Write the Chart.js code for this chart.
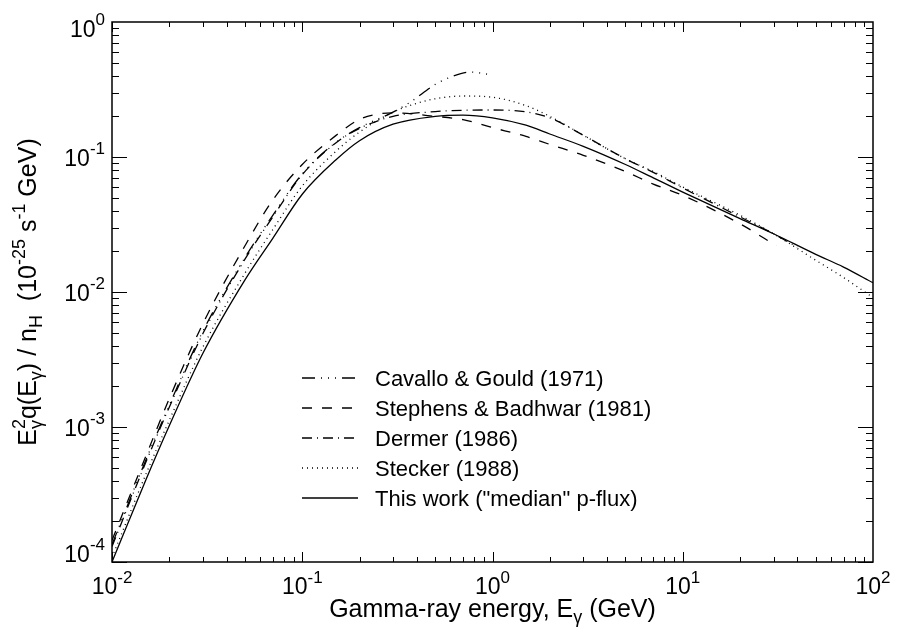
<!DOCTYPE html>
<html>
<head>
<meta charset="utf-8">
<script src="https://cdn.jsdelivr.net/npm/chart.js"></script>
<style>
  html, body { margin: 0; padding: 0; background: #fff; }
  canvas { display: block; }
</style>
</head>
<body>
<canvas id="gammaChart" width="899" height="637"></canvas>
<script>
// gamma-ray energy (GeV) and E^2 q(E) / nH (1e-25 s^-1 GeV)
const cavalloE = [0.01, 0.015, 0.02, 0.03, 0.05, 0.07, 0.1, 0.15, 0.2, 0.3, 0.37, 0.5, 0.6, 0.76, 0.85, 0.99];
const cavalloY = [1.35e-4, 5.6e-4, 1.45e-3, 5.1e-3, 1.8e-2, 3.7e-2, 7.5e-2, 0.128, 0.165, 0.215, 0.255, 0.345, 0.39, 0.426, 0.42, 0.405];

const stephensE = [0.01, 0.015, 0.02, 0.03, 0.05, 0.07, 0.1, 0.15, 0.2, 0.25, 0.3, 0.5, 0.7, 1, 1.5, 2, 3, 5, 7, 10, 20, 31];
const stephensY = [1.45e-4, 6.0e-4, 1.62e-3, 5.8e-3, 2.2e-2, 4.8e-2, 8.8e-2, 0.144, 0.19, 0.208, 0.212, 0.2, 0.189, 0.165, 0.142, 0.124, 0.103, 0.078, 0.063, 0.052, 0.032, 0.022];

const dermerE = [0.01, 0.015, 0.02, 0.03, 0.05, 0.07, 0.1, 0.15, 0.2, 0.3, 0.5, 0.7, 1, 1.5, 2, 3, 5, 7, 10, 20, 30, 40];
const dermerY = [1.3e-4, 5.4e-4, 1.4e-3, 4.9e-3, 1.75e-2, 3.6e-2, 7.4e-2, 0.127, 0.163, 0.2, 0.217, 0.222, 0.223, 0.216, 0.195, 0.145, 0.097, 0.077, 0.059, 0.036, 0.027, 0.0215];

const steckerE = [0.01, 0.015, 0.02, 0.03, 0.05, 0.07, 0.1, 0.15, 0.2, 0.3, 0.4, 0.5, 0.7, 1, 1.5, 2, 3, 5, 7, 10, 20, 30, 50, 70, 100];
const steckerY = [1.08e-4, 4.4e-4, 1.12e-3, 3.9e-3, 1.38e-2, 2.9e-2, 6.1e-2, 0.11, 0.153, 0.215, 0.25, 0.27, 0.283, 0.277, 0.24, 0.2, 0.145, 0.097, 0.078, 0.06, 0.037, 0.027, 0.0172, 0.0128, 0.0091];

const thisWorkE = [0.01, 0.015, 0.02, 0.03, 0.05, 0.07, 0.1, 0.15, 0.2, 0.3, 0.5, 0.7, 1, 1.5, 2, 3, 5, 7, 10, 20, 30, 50, 70, 100];
const thisWorkY = [1.0e-4, 4.0e-4, 1.02e-3, 3.5e-3, 1.23e-2, 2.5e-2, 5.3e-2, 9.5e-2, 0.132, 0.175, 0.2, 0.204, 0.195, 0.172, 0.148, 0.12, 0.088, 0.07, 0.055, 0.035, 0.027, 0.019, 0.0153, 0.0117];

const legendLabels = ['Cavallo & Gould (1971)', 'Stephens & Badhwar (1981)', 'Dermer (1986)', 'Stecker (1988)', 'This work ("median" p-flux)'];
const xTickExp = [-2, -1, 0, 1, 2];
const yTickExp = [-4, -3, -2, -1, 0];

const FONT = '"Liberation Sans", Arial, Helvetica, sans-serif';
const dashes = [[13, 6, 1, 6, 1, 6, 1, 6], [10, 10], [10, 5, 1, 5], [1, 4], []];

function pts(xs, ys) {
  return xs.map((x, i) => ({ x: x, y: ys[i] }));
}

// "10" with a superscript exponent
function powLabel(ctx, exp, x, y, align) {
  ctx.font = '23px ' + FONT;
  const wb = ctx.measureText('10').width;
  ctx.font = '17px ' + FONT;
  const sup = String(exp);
  const ws = ctx.measureText(sup).width;
  let x0 = x;
  if (align === 'right') x0 = x - wb - ws;
  if (align === 'center') x0 = x - (wb + ws) / 2;
  ctx.font = '23px ' + FONT;
  ctx.fillText('10', x0, y);
  ctx.font = '17px ' + FONT;
  ctx.fillText(sup, x0 + wb, y - 11.5);
}

// text made of pieces: [text, 'n' | 'sub' | 'sup'] or [[sub, sup], 'stack']
function richText(ctx, parts, x, y, size) {
  const big = size + 'px ' + FONT, small = Math.round(size * 0.7) + 'px ' + FONT;
  const up = Math.round(size * 0.45), down = Math.round(size * 0.25);
  const widthOf = p => {
    if (p[1] === 'stack') {
      ctx.font = small;
      return Math.max(ctx.measureText(p[0][0]).width, ctx.measureText(p[0][1]).width);
    }
    ctx.font = p[1] === 'n' ? big : small;
    return ctx.measureText(p[0]).width;
  };
  let total = 0;
  parts.forEach(p => total += widthOf(p));
  let cx = x - total / 2;
  parts.forEach(p => {
    const w = widthOf(p);
    if (p[1] === 'n') {
      ctx.font = big; ctx.fillText(p[0], cx, y);
    } else if (p[1] === 'sub') {
      ctx.font = small; ctx.fillText(p[0], cx, y + down);
    } else if (p[1] === 'sup') {
      ctx.font = small; ctx.fillText(p[0], cx, y - up);
    } else {
      ctx.font = small;
      ctx.fillText(p[0][0], cx, y + down);
      ctx.fillText(p[0][1], cx, y - up);
    }
    cx += w;
  });
}

const axesPlugin = {
  id: 'axesPlugin',
  afterDraw(chart) {
    const ctx = chart.ctx;
    const xs = chart.scales.x, ys = chart.scales.y;
    const a = chart.chartArea;
    ctx.save();
    ctx.strokeStyle = '#000';
    ctx.fillStyle = '#000';
    ctx.setLineDash([]);

    // ticks on all four sides
    ctx.lineWidth = 1;
    ctx.beginPath();
    for (let e = -2; e < 2; e++) {
      for (let m = 1; m < 10; m++) {
        const px = Math.round(xs.getPixelForValue(m * Math.pow(10, e))) + 0.5;
        const len = m === 1 ? 10 : 5;
        ctx.moveTo(px, a.bottom); ctx.lineTo(px, a.bottom - len);
        ctx.moveTo(px, a.top); ctx.lineTo(px, a.top + len);
      }
    }
    for (let e = -4; e < 0; e++) {
      for (let m = 1; m < 10; m++) {
        const py = Math.round(ys.getPixelForValue(m * Math.pow(10, e))) + 0.5;
        const len = m === 1 ? 15 : 7;
        ctx.moveTo(a.left, py); ctx.lineTo(a.left + len, py);
        ctx.moveTo(a.right, py); ctx.lineTo(a.right - len, py);
      }
    }
    ctx.stroke();

    // frame
    ctx.lineWidth = 1.5;
    ctx.strokeRect(a.left, a.top, a.right - a.left, a.bottom - a.top);

    // tick labels
    ctx.textAlign = 'left';
    ctx.textBaseline = 'alphabetic';
    xTickExp.forEach(e => {
      powLabel(ctx, e, xs.getPixelForValue(Math.pow(10, e)), a.bottom + 32, 'center');
    });
    yTickExp.forEach(e => {
      let py = ys.getPixelForValue(Math.pow(10, e)) + 8.5;
      if (e === 0) py += 6;
      if (e === -4) py -= 9;
      powLabel(ctx, e, 105, py, 'right');
    });

    // axis titles
    const midX = (a.left + a.right) / 2, midY = (a.top + a.bottom) / 2;
    richText(ctx, [['Gamma-ray energy, E', 'n'], ['\u03b3', 'sub'], [' (GeV)', 'n']], midX, 617, 25);
    ctx.save();
    ctx.translate(36, midY);
    ctx.rotate(-Math.PI / 2);
    richText(ctx, [['E', 'n'], [['\u03b3', '2'], 'stack'], ['q(E', 'n'], ['\u03b3', 'sub'], [') / n', 'n'], ['H', 'sub'],
      ['  (10', 'n'], ['-25', 'sup'], [' s', 'n'], ['-1', 'sup'], [' GeV)', 'n']], 0, 0, 25);
    ctx.restore();

    // legend
    ctx.lineWidth = 1.3;
    legendLabels.forEach((label, i) => {
      const ly = 378 + i * 30;
      ctx.setLineDash(dashes[i]);
      ctx.beginPath();
      ctx.moveTo(302, ly); ctx.lineTo(358, ly);
      ctx.stroke();
      ctx.setLineDash([]);
      ctx.font = '22px ' + FONT;
      ctx.fillText(label, 375, ly + 8);
    });
    ctx.restore();
  }
};

const seriesData = [pts(cavalloE, cavalloY), pts(stephensE, stephensY), pts(dermerE, dermerY), pts(steckerE, steckerY), pts(thisWorkE, thisWorkY)];

new Chart(document.getElementById('gammaChart'), {
  type: 'line',
  data: {
    datasets: seriesData.map((d, i) => ({
      label: legendLabels[i],
      data: d,
      borderColor: '#000',
      borderWidth: 1.3,
      borderDash: dashes[i],
      pointRadius: 0,
      fill: false,
      cubicInterpolationMode: 'monotone'
    }))
  },
  options: {
    responsive: false,
    animation: false,
    devicePixelRatio: 1,
    layout: { padding: { left: 112, right: 26, top: 22, bottom: 75 } },
    plugins: { legend: { display: false }, tooltip: { enabled: false } },
    scales: {
      x: { type: 'logarithmic', min: 0.01, max: 100, display: false },
      y: { type: 'logarithmic', min: 1e-4, max: 1, display: false }
    }
  },
  plugins: [axesPlugin]
});
</script>
</body>
</html>
